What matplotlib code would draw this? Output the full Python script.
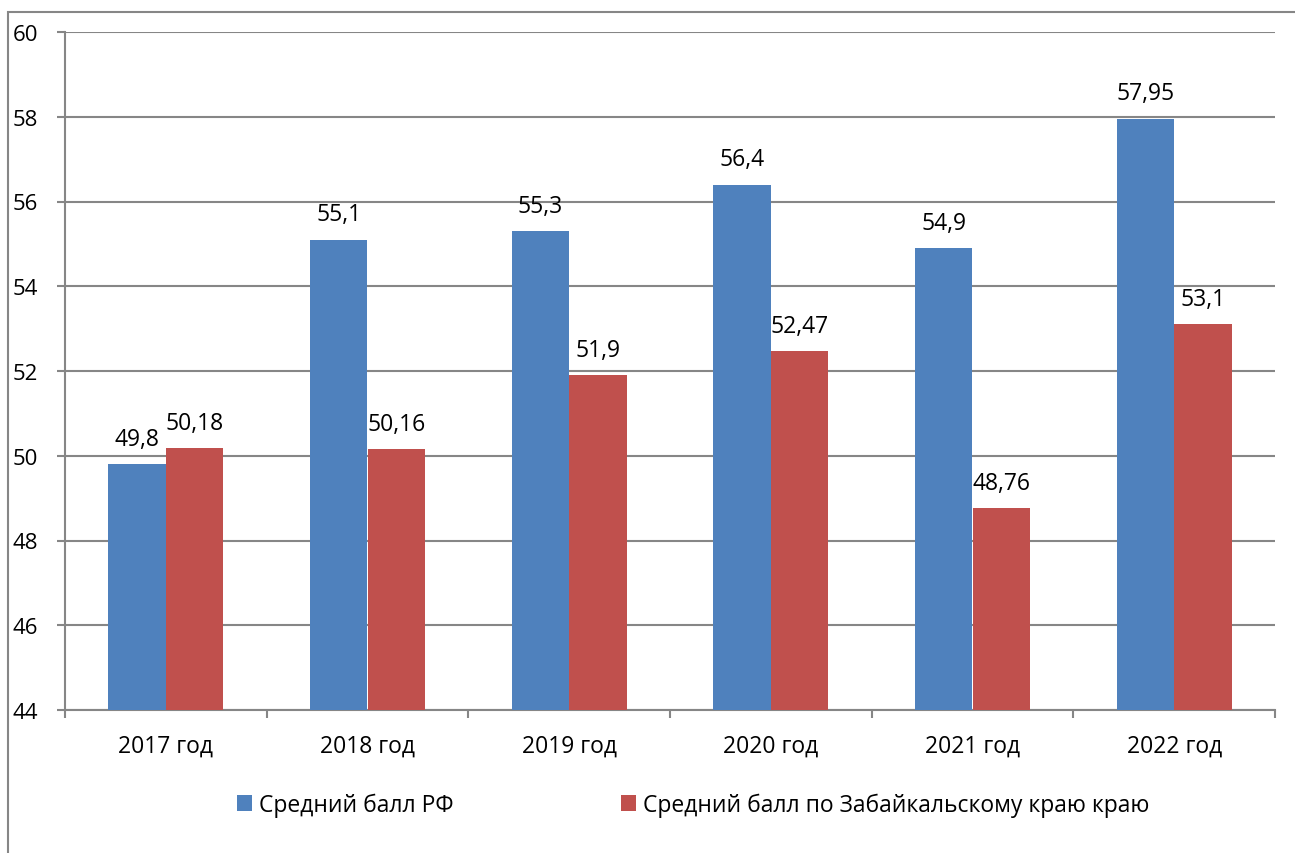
import matplotlib
matplotlib.use("Agg")
import matplotlib.pyplot as plt
import numpy as np
from matplotlib.patches import Rectangle

years = ["2017 год", "2018 год", "2019 год", "2020 год", "2021 год", "2022 год"]
rf_scores = [49.8, 55.1, 55.3, 56.4, 54.9, 57.95]
zab_scores = [50.18, 50.16, 51.9, 52.47, 48.76, 53.1]
rf_labels = ["49,8", "55,1", "55,3", "56,4", "54,9", "57,95"]
zab_labels = ["50,18", "50,16", "51,9", "52,47", "48,76", "53,1"]
series_names = ["Средний балл РФ", "Средний балл по Забайкальскому краю краю"]

plt.rcParams["font.family"] = ["Open Sans", "DejaVu Sans"]
grey = "#868686"
fs = 16.5

fig = plt.figure(figsize=(12.95, 8.54), dpi=100)
ax = fig.add_axes([65 / 1295, 1 - 711 / 854, 1210 / 1295, 678 / 854])

# outer chart frame (only left/top visible)
fig.patches.append(Rectangle((8 / 1295, -0.1), 1.2, 1 - 13 / 854 + 0.1,
                             transform=fig.transFigure, fill=False,
                             edgecolor=grey, linewidth=1.5))

x = np.arange(len(years))
w = 0.285
b1 = ax.bar(x - w / 2, np.array(rf_scores) - 44, w, bottom=44, color="#4F81BD",
            label=series_names[0], zorder=3)
b2 = ax.bar(x + w / 2, np.array(zab_scores) - 44, w, bottom=44, color="#C0504D",
            label=series_names[1], zorder=3)

for xi, v, s in zip(x - w / 2, rf_scores, rf_labels):
    ax.annotate(s, (xi, v), xytext=(0, 14), textcoords="offset points",
                ha="center", va="baseline", fontsize=fs)
for xi, v, s in zip(x + w / 2, zab_scores, zab_labels):
    ax.annotate(s, (xi, v), xytext=(0, 14), textcoords="offset points",
                ha="center", va="baseline", fontsize=fs)

ax.set_xlim(-0.5, len(years) - 0.5)
ax.set_ylim(44, 60)
ax.set_yticks(np.arange(44, 61, 2))
ax.grid(axis="y", color=grey, linewidth=1.5, zorder=0)
ax.set_xticks(x)
ax.set_xticklabels(years, fontsize=fs)
ax.set_xticks(np.arange(-0.5, len(years), 1), minor=True)
ax.tick_params(axis="x", which="major", length=0, pad=17)
ax.tick_params(axis="x", which="minor", length=6, width=1.5, color=grey)
ax.tick_params(axis="y", length=6, width=1.5, color=grey, labelsize=16, pad=13.5)

for side in ["top", "right"]:
    ax.spines[side].set_visible(False)
for side in ["left", "bottom"]:
    ax.spines[side].set_color(grey)
    ax.spines[side].set_linewidth(1.5)

fig.legend(handles=[b1, b2], loc="center", bbox_to_anchor=(693 / 1295, 1 - 806 / 854),
           ncol=2, frameon=False, fontsize=fs, handlelength=0.65, handleheight=0.65,
           columnspacing=7.3, handletextpad=0.3)

fig.savefig("out.png", dpi=100)
